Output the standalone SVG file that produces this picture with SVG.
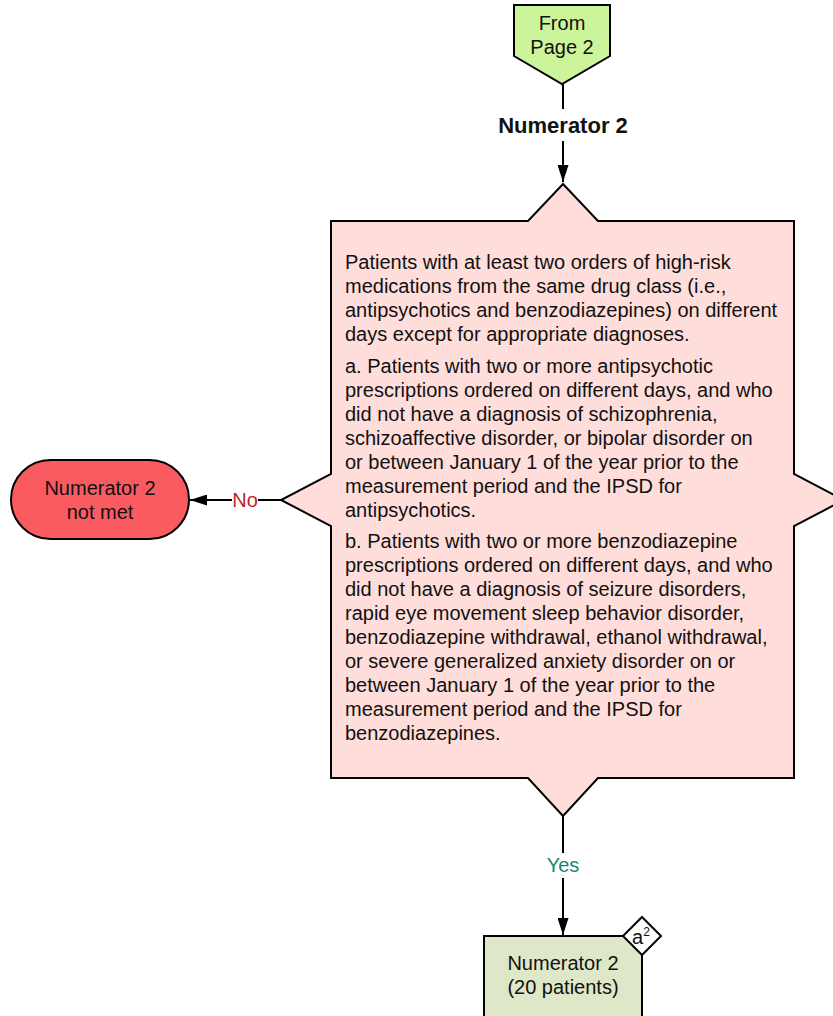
<svg xmlns="http://www.w3.org/2000/svg" width="833" height="1016" viewBox="0 0 833 1016">
<defs>
<style>
.s{stroke:#000;stroke-width:2;stroke-linejoin:miter}
.t{font-family:"Liberation Sans",Arial,sans-serif;font-size:20px;fill:#111}
.c{text-anchor:middle}
.l{fill:none;stroke:#000;stroke-width:2}
</style>
<marker id="ah" viewBox="0 0 17 11" refX="17" refY="5.5" markerWidth="17" markerHeight="11" markerUnits="userSpaceOnUse" orient="auto">
<path d="M0,0 L17,5.5 L0,11 z" fill="#000"/>
</marker>
</defs>
<rect width="833" height="1016" fill="#fff"/>
<g id="connectors">
<path class="l" d="M563,84 V109"/>
<path class="l" d="M563,141 V182" marker-end="url(#ah)"/>
<path class="l" d="M281,500 H258"/>
<path class="l" d="M232,500 H190" marker-end="url(#ah)"/>
<text class="t c" x="245" y="507" style="fill:#c0232c">No</text>
<path class="l" d="M563,816 V853"/>
<path class="l" d="M563,878 V935" marker-end="url(#ah)"/>
<text class="t c" x="563" y="872" style="fill:#138a72">Yes</text>
</g>
<g id="from-page-2">
<path class="s" d="M514,5 H610 V56 L562,84 L514,56 Z" fill="#ccf59b"/>
<text class="t c" x="562" y="30">From</text>
<text class="t c" x="562" y="54">Page 2</text>
</g>
<g id="numerator-2-label">
<text class="t c" x="563" y="133" style="font-weight:bold;font-size:22px">Numerator 2</text>
</g>
<g id="decision">
<path class="s" d="M331,221 H528 L563,184 L598,221 H794 V474 L844,500 L794,526 V778 H598 L563,816 L528,778 H331 V526 L281,500 L331,474 Z" fill="#ffddda"/>
<text class="t" x="345">
<tspan x="345" y="269">Patients with at least two orders of high-risk</tspan>
<tspan x="345" y="293">medications from the same drug class (i.e.,</tspan>
<tspan x="345" y="317">antipsychotics and benzodiazepines) on different</tspan>
<tspan x="345" y="341">days except for appropriate diagnoses.</tspan>
<tspan x="345" y="373">a. Patients with two or more antipsychotic</tspan>
<tspan x="345" y="397">prescriptions ordered on different days, and who</tspan>
<tspan x="345" y="421">did not have a diagnosis of schizophrenia,</tspan>
<tspan x="345" y="445">schizoaffective disorder, or bipolar disorder on</tspan>
<tspan x="345" y="469">or between January 1 of the year prior to the</tspan>
<tspan x="345" y="493">measurement period and the IPSD for</tspan>
<tspan x="345" y="517">antipsychotics.</tspan>
<tspan x="345" y="548">b. Patients with two or more benzodiazepine</tspan>
<tspan x="345" y="572">prescriptions ordered on different days, and who</tspan>
<tspan x="345" y="596">did not have a diagnosis of seizure disorders,</tspan>
<tspan x="345" y="620">rapid eye movement sleep behavior disorder,</tspan>
<tspan x="345" y="644">benzodiazepine withdrawal, ethanol withdrawal,</tspan>
<tspan x="345" y="668">or severe generalized anxiety disorder on or</tspan>
<tspan x="345" y="692">between January 1 of the year prior to the</tspan>
<tspan x="345" y="716">measurement period and the IPSD for</tspan>
<tspan x="345" y="740">benzodiazepines.</tspan>
</text>
</g>
<g id="not-met">
<rect class="s" x="11" y="460" width="178" height="79" rx="39.5" ry="39.5" fill="#fa5b61"/>
<text class="t c" x="100" y="495">Numerator 2</text>
<text class="t c" x="100" y="519">not met</text>
</g>
<g id="numerator-2-box">
<rect class="s" x="484" y="936" width="158" height="100" fill="#dfe7c9"/>
<text class="t c" x="563" y="970">Numerator 2</text>
<text class="t c" x="563" y="994">(20 patients)</text>
</g>
<g id="badge">
<path class="s" d="M642,917 L661,936 L642,955 L623,936 Z" fill="#fff"/>
<text class="t" x="632" y="944" style="font-size:20px">a<tspan dy="-8" style="font-size:12px">2</tspan></text>
</g>
</svg>
